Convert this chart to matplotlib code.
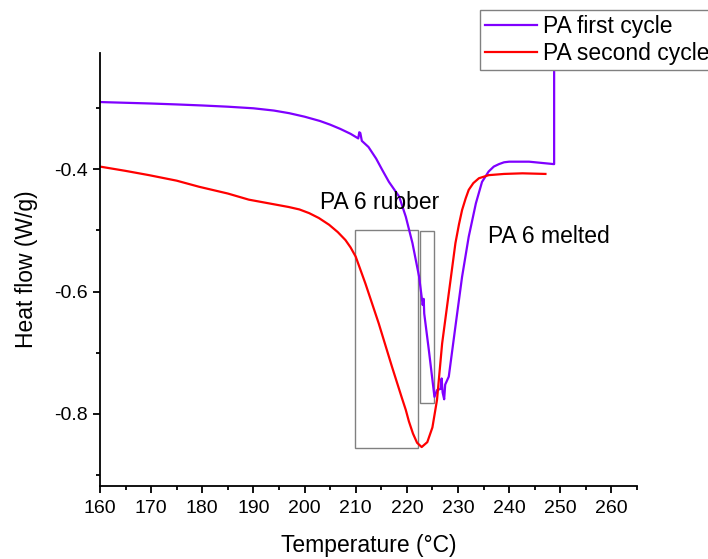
import matplotlib
matplotlib.use("Agg")
import matplotlib.pyplot as plt
from matplotlib.patches import Rectangle
from matplotlib.ticker import MultipleLocator

plt.rcParams['font.family'] = ['Liberation Sans', 'DejaVu Sans']

# first heating cycle (purple)
t1 = [160, 165, 170, 175, 180, 185, 190, 194, 197, 200, 203, 205, 207, 209, 210.5,
      210.7, 210.9, 211.2, 212.5, 214, 215.2, 216.5, 218.5, 219.8, 221.1, 222.4,
      223.1, 223.3, 223.4, 224.3, 225.4, 225.9, 226.6, 226.8, 227.0, 227.3, 227.5,
      228.2, 229.5, 230.8, 232.1, 233.5, 234.7, 236.0, 237.0, 238.0, 239.0, 240.0,
      243.9, 248.8, 248.8]
hf1 = [-0.2906, -0.2918, -0.293, -0.2945, -0.2962, -0.2982, -0.3008, -0.3045, -0.3088,
       -0.3145, -0.3215, -0.3275, -0.3345, -0.3425, -0.3500, -0.3400, -0.3410, -0.3540,
       -0.3640, -0.3830, -0.4016, -0.421, -0.445, -0.478, -0.521, -0.576, -0.622,
       -0.612, -0.636, -0.6955, -0.772, -0.761, -0.759, -0.742, -0.765, -0.776, -0.752,
       -0.739, -0.657, -0.576, -0.5105, -0.456, -0.421, -0.404, -0.396, -0.392, -0.389,
       -0.388, -0.388, -0.392, -0.15]

# second heating cycle (red)
t2 = [160, 165, 169.6, 175, 179.4, 185, 189.1, 193, 196.9, 199, 200.9, 202.8, 204.8,
      206.5, 208.0, 209.0, 210.0, 211.9, 214.5, 217.1, 219.0, 219.8, 220.4, 221.2,
      222.0, 222.9, 224.0, 225.0, 225.9, 226.9, 228.2, 229.5, 230.2, 230.8, 231.5,
      232.1, 233.0, 234.1, 236.0, 239.0, 242.6, 247.1]
hf2 = [-0.396, -0.403, -0.41, -0.419, -0.429, -0.44, -0.45, -0.456, -0.462, -0.466,
       -0.472, -0.48, -0.491, -0.503, -0.516, -0.528, -0.543, -0.587, -0.652, -0.723,
       -0.773, -0.7935, -0.812, -0.832, -0.847, -0.854, -0.846, -0.822, -0.777, -0.685,
       -0.603, -0.521, -0.49, -0.467, -0.448, -0.434, -0.423, -0.415, -0.41, -0.408,
       -0.407, -0.408]

# annotation boxes: (x0, y0, x1, y1)
box_rubber = (209.8, -0.855, 222.2, -0.5)
box_melt = (222.5, -0.7815, 225.4, -0.502)

fig = plt.figure(figsize=(7.08, 5.59), dpi=100)
ax = fig.add_axes([0.1412, 0.1306, 0.7585, 0.7746])

l1, = ax.plot(t1, hf1, color='#7F00FF', lw=1.6, label='PA first cycle')
l2, = ax.plot(t2, hf2, color='#FF0000', lw=1.6, label='PA second cycle')

for b in (box_rubber, box_melt):
    ax.add_patch(Rectangle((b[0], b[1]), b[2] - b[0], b[3] - b[1],
                           fill=False, edgecolor='#808080', lw=1.0))

ax.text(203.0, -0.465, 'PA 6 rubber', fontsize=16.5)
ax.text(235.9, -0.52, 'PA 6 melted', fontsize=16.5)

ax.set_xlim(160, 265)
ax.set_ylim(-0.9176, -0.2105)
ax.xaxis.set_major_locator(MultipleLocator(10))
ax.xaxis.set_minor_locator(MultipleLocator(5))
ax.yaxis.set_major_locator(MultipleLocator(0.2))
ax.yaxis.set_minor_locator(MultipleLocator(0.1))
ax.yaxis.set_major_formatter(plt.FuncFormatter(lambda v, p: f'{v:.1f}'))

for s in ('top', 'right'):
    ax.spines[s].set_visible(False)
for s in ('left', 'bottom'):
    ax.spines[s].set_linewidth(1.3)
ax.tick_params(which='major', direction='out', length=5, width=1.3, labelsize=14)
ax.tick_params(axis='x', which='major', pad=5)
ax.tick_params(which='minor', direction='out', length=3, width=1.3)

ax.set_xlabel('Temperature (°C)', fontsize=16.5, labelpad=12)
ax.set_ylabel('Heat flow (W/g)', fontsize=16.5, labelpad=12)

fig.legend(handles=[l1, l2], loc='upper left', bbox_to_anchor=(0.678, 0.982),
           fontsize=16.5, frameon=True, fancybox=False, edgecolor='#808080',
           framealpha=1, handlelength=2.3, handletextpad=0.25, borderpad=0.2,
           labelspacing=0.2, borderaxespad=0)

fig.savefig('out.png', dpi=100)
